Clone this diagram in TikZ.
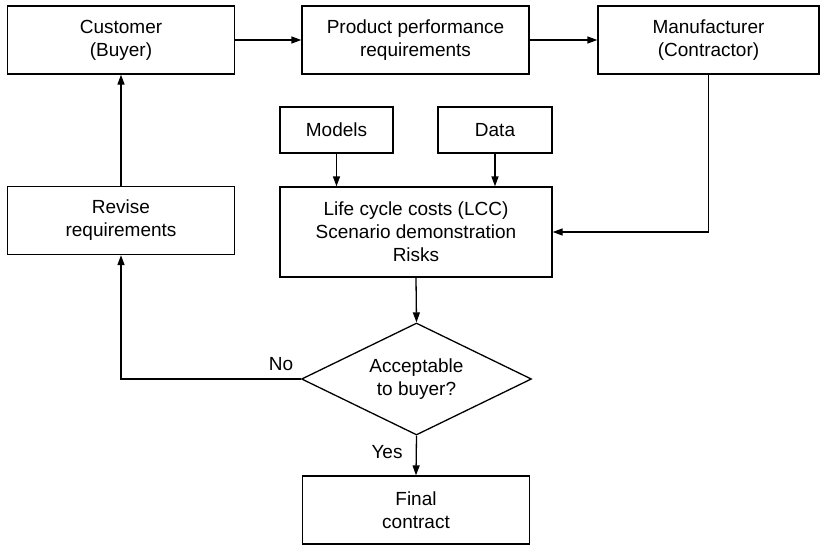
\documentclass[tikz,border=0pt]{standalone}
\usepackage{fontspec}
\setmainfont{Liberation Sans}
\usetikzlibrary{arrows.meta,shapes.geometric}
\begin{document}
\begin{tikzpicture}[x=1pt,y=-1pt,
  every node/.style={font=\fontsize{19}{23}\selectfont, align=center, inner sep=0pt},
  box/.style={draw, line width=1.3pt, rectangle},
  decision/.style={draw, line width=1.3pt, diamond, aspect=2.05, minimum width=230pt, minimum height=112pt},
  link/.style={line width=1.3pt, -{Triangle[length=10pt,width=7pt]}}]
\useasboundingbox (0,0) rectangle (820,547);
% top row
\node[box, minimum width=227pt, minimum height=68pt] (cust) at (121,40) {Customer\\(Buyer)};
\node[box, minimum width=227pt, minimum height=68pt] (ppr) at (415.5,40) {Product performance\\requirements};
\node[box, minimum width=221pt, minimum height=68pt] (manu) at (708.5,40) {Manufacturer\\(Contractor)};
% inputs
\node[box, minimum width=113pt, minimum height=46pt] (models) at (336.5,130) {Models};
\node[box, minimum width=114pt, minimum height=46pt] (data) at (495,130) {Data};
% middle row
\node[box, minimum width=227pt, minimum height=68pt] (revise) at (121,220.5) {Revise\\requirements};
\node[box, minimum width=272pt, minimum height=90pt] (lcc) at (416,232) {Life cycle costs (LCC)\\Scenario demonstration\\Risks};
% decision and outcome
\node[decision] (dec) at (416.5,379) {Acceptable\\to buyer?};
\node[box, minimum width=227pt, minimum height=68pt] (final) at (416,510) {Final\\contract};
% connectors
\draw[link] (cust) -- (ppr);
\draw[link] (ppr) -- (manu);
\draw[link] (manu.south) |- (lcc.east);
\draw[link] (models.south) -- (models.south |- lcc.north);
\draw[link] (data.south) -- (data.south |- lcc.north);
\draw[link] (lcc.south) -- (dec.north);
\draw[link] (dec.west) -| (revise.south);
\draw[link] (revise.north) -- (cust.south);
\draw[link] (dec.south) -- (final.north);
% branch labels
\node (no) at (281,364) {No};
\node (yes) at (387,452) {Yes};
\end{tikzpicture}
\end{document}
